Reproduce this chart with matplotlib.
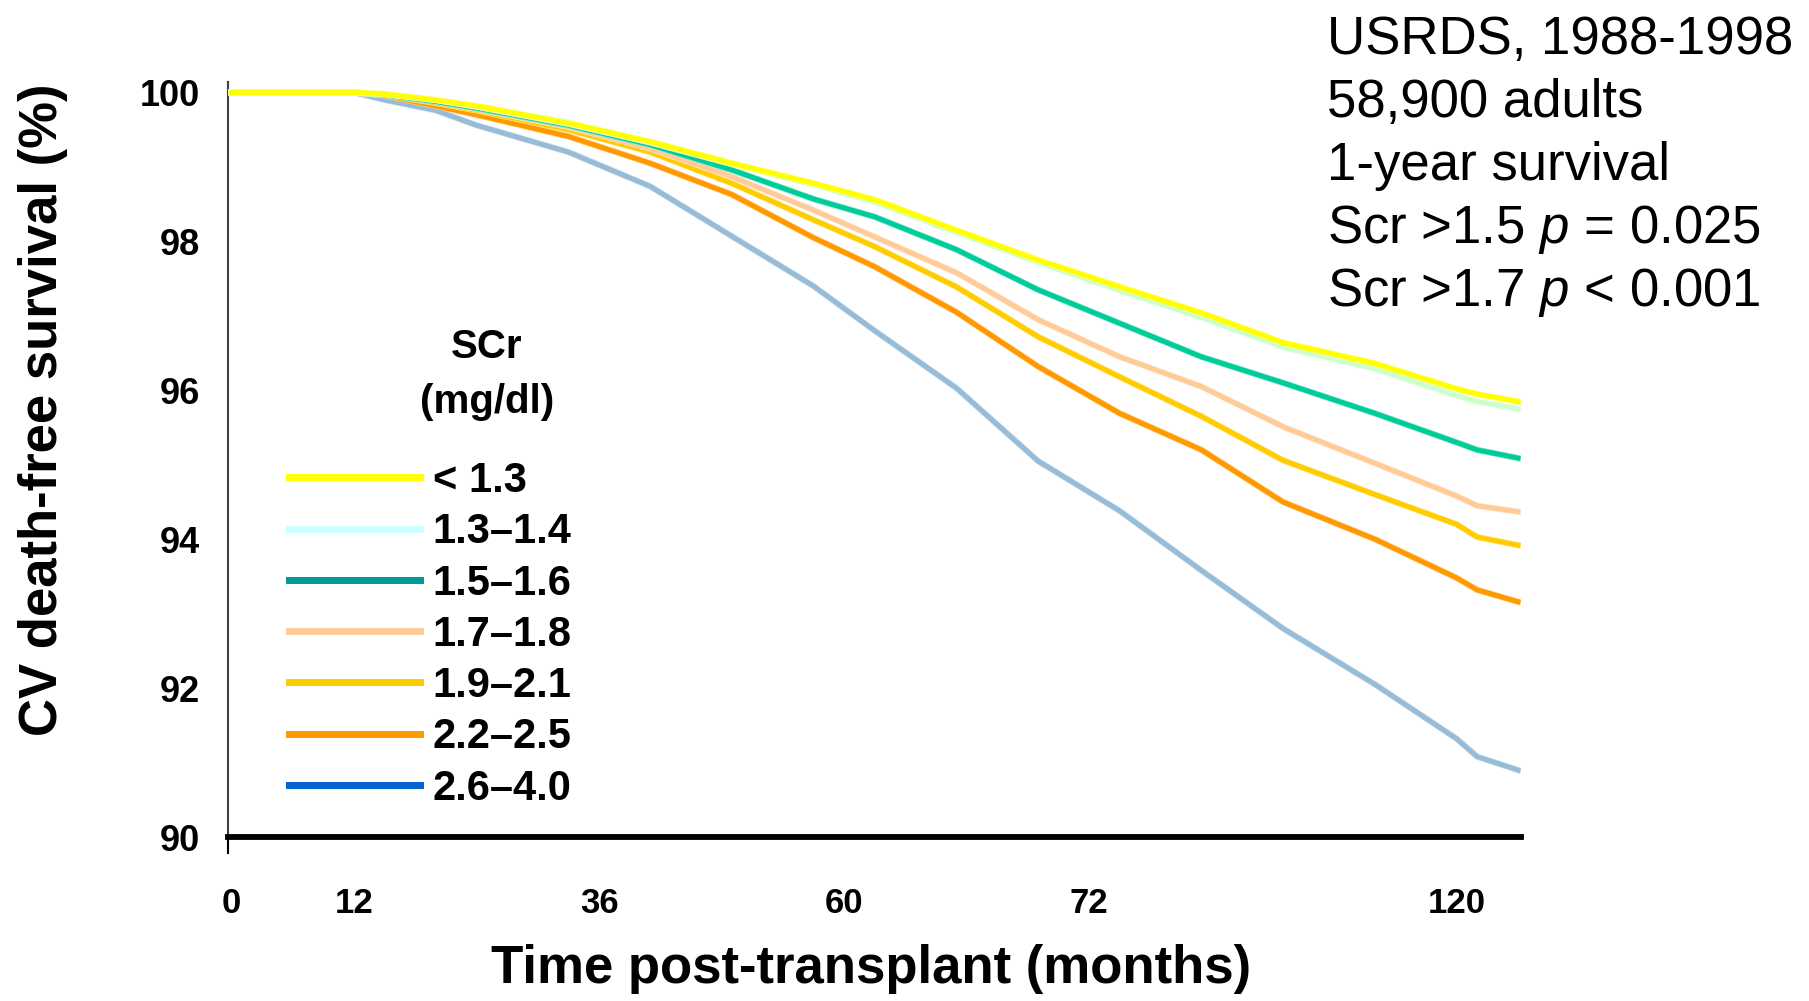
import matplotlib
matplotlib.use("Agg")
import matplotlib.pyplot as plt
import matplotlib.patheffects as pe
from matplotlib.colors import to_rgb
from matplotlib.lines import Line2D

plt.rcParams['font.family'] = ['Liberation Sans', 'DejaVu Sans']
plt.rcParams['mathtext.fontset'] = 'custom'
plt.rcParams['mathtext.rm'] = 'Liberation Sans'
plt.rcParams['mathtext.it'] = 'Liberation Sans:italic'

# months post-transplant at which the curves are sampled
months = [0, 12, 15, 20, 24, 33, 41, 49, 57, 63, 71, 79, 87, 95, 103, 112, 120, 122, 126]

# CV death-free survival (%) per serum creatinine group at 1 year
surv_lt13 = [100, 100, 99.98, 99.90, 99.82, 99.59, 99.34, 99.05, 98.78, 98.56,
             98.15, 97.75, 97.39, 97.04, 96.64, 96.36, 96.02, 95.95, 95.85]
surv_13_14 = [100, 100, 99.98, 99.90, 99.81, 99.58, 99.33, 99.04, 98.76, 98.53,
              98.12, 97.72, 97.34, 96.98, 96.58, 96.29, 95.93, 95.85, 95.75]
surv_15_16 = [100, 100, 99.97, 99.88, 99.79, 99.56, 99.30, 98.96, 98.57, 98.33,
              97.89, 97.35, 96.90, 96.45, 96.10, 95.69, 95.30, 95.20, 95.09]
surv_17_18 = [100, 100, 99.97, 99.88, 99.78, 99.54, 99.25, 98.87, 98.42, 98.06,
              97.58, 96.95, 96.45, 96.05, 95.51, 95.02, 94.58, 94.45, 94.37]
surv_19_21 = [100, 100, 99.97, 99.86, 99.76, 99.50, 99.20, 98.78, 98.29, 97.93,
              97.39, 96.72, 96.18, 95.65, 95.06, 94.60, 94.20, 94.03, 93.92]
surv_22_25 = [100, 100, 99.96, 99.82, 99.70, 99.41, 99.05, 98.63, 98.05, 97.66,
              97.05, 96.32, 95.69, 95.20, 94.50, 94.00, 93.48, 93.32, 93.16]
surv_26_40 = [100, 100, 99.90, 99.76, 99.56, 99.20, 98.74, 98.07, 97.40, 96.80,
              96.03, 95.05, 94.38, 93.58, 92.80, 92.05, 91.32, 91.08, 90.90]

groups = ["< 1.3", "1.3\u20131.4", "1.5\u20131.6", "1.7\u20131.8",
          "1.9\u20132.1", "2.2\u20132.5", "2.6\u20134.0"]
curves = [surv_lt13, surv_13_14, surv_15_16, surv_17_18,
          surv_19_21, surv_22_25, surv_26_40]

line_colors = ["#ffff00", "#ccffcc", "#00cc99", "#ffcc99",
               "#ffcc00", "#ff9900", "#96bcd8"]
key_colors = ["#ffff00", "#ccffff", "#009999", "#ffcc99",
              "#ffcc00", "#ff9900", "#0066cc"]

xtick_pos = [0, 12, 36, 60, 84, 120]
xtick_labels = ["0", "12", "36", "60", "72", "120"]
ytick_vals = [90, 92, 94, 96, 98, 100]

notes = ["USRDS, 1988-1998", "58,900 adults", "1-year survival",
         r"Scr >1.5 $\mathit{p}$ = 0.025", r"Scr >1.7 $\mathit{p}$ < 0.001"]


def lighten(c, amt=0.5):
    r, g, b = to_rgb(c)
    return (r + (1 - r) * amt, g + (1 - g) * amt, b + (1 - b) * amt)


fig = plt.figure(figsize=(18.09, 10.01), dpi=100)
ax = fig.add_axes([0.126, 0.1638, 0.7148, 0.7542])

# draw worst group first so the best group sits on top
for i in reversed(range(len(curves))):
    ax.plot(months, curves[i], color=line_colors[i], lw=3.5, zorder=3 + (7 - i),
            solid_joinstyle='miter',
            path_effects=[pe.Stroke(linewidth=4.5, foreground=lighten(line_colors[i])),
                          pe.Normal()])

ax.set_xlim(-0.35, 126.3)
ax.set_ylim(90, 100.14)

for s in ['top', 'right']:
    ax.spines[s].set_visible(False)
ax.spines['left'].set_color('#404040')
ax.spines['left'].set_linewidth(1.5)
ax.spines['bottom'].set_color('black')
ax.spines['bottom'].set_linewidth(4.2)

ax.set_xticks(xtick_pos)
ax.set_xticklabels(xtick_labels)
ax.set_yticks(ytick_vals)
ax.set_yticklabels([str(v) for v in ytick_vals])
ax.tick_params(axis='x', length=0, pad=36, labelsize=25)
ax.tick_params(axis='y', length=0, pad=20, labelsize=26)
for lab in ax.get_xticklabels() + ax.get_yticklabels():
    lab.set_fontweight('bold')

# short tick below the origin
ax.plot([0, 0], [0, -0.021], transform=ax.transAxes, clip_on=False,
        color='black', lw=1.5)

handles = [Line2D([], [], color=c, lw=5) for c in key_colors]
leg = ax.legend(handles, groups, loc='upper left',
                bbox_to_anchor=(289 / 1809, 1 - 461 / 1001),
                bbox_transform=fig.transFigure, frameon=False,
                prop={'weight': 'bold', 'size': 30}, handlelength=3.15,
                handletextpad=0.3, labelspacing=0.27, borderpad=0,
                borderaxespad=0)

fig.text(487 / 1809, 1 - 347 / 1001, "SCr", ha='center', va='center',
         fontsize=29, fontweight='bold')
fig.text(487 / 1809, 1 - 402 / 1001, "(mg/dl)", ha='center', va='center',
         fontsize=29, fontweight='bold')

fig.text(43 / 1809, 1 - 410 / 1001, "CV death-free survival (%)", rotation=90,
         ha='center', va='center', fontsize=38, fontweight='bold')
fig.text(871 / 1809, 1 - 969 / 1001, "Time post-transplant (months)",
         ha='center', va='center', fontsize=38, fontweight='bold')

for k, line in enumerate(notes):
    fig.text(1327 / 1809, 1 - (54 + 63 * k) / 1001, line, ha='left',
             va='baseline', fontsize=38)

fig.savefig("out.png", dpi=100)
